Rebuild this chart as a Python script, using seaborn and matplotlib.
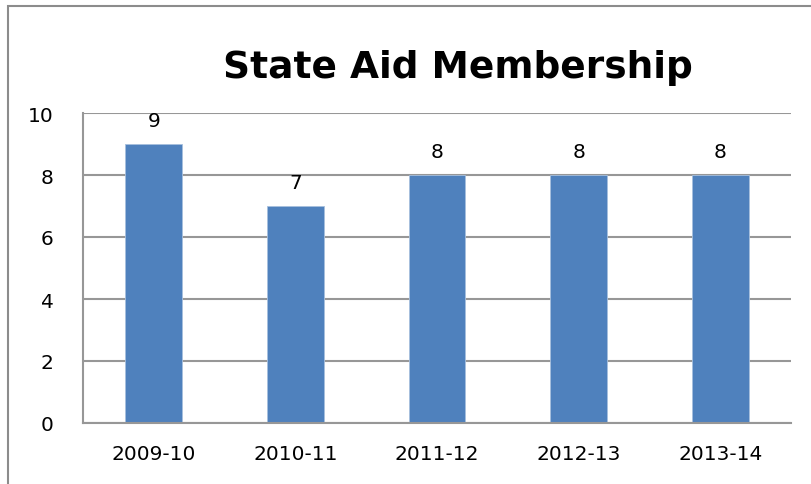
import matplotlib
matplotlib.use("Agg")
import matplotlib.pyplot as plt
import seaborn as sns
import pandas as pd
from matplotlib.patches import Rectangle

years = ["2009-10", "2010-11", "2011-12", "2012-13", "2013-14"]
members = [9, 7, 8, 8, 8]
title = "State Aid Membership"
yticks = [0, 2, 4, 6, 8, 10]

sns.set_theme(style="white")
plt.rcParams['font.family'] = ['DejaVu Sans']

W, H = 811, 485
fig = plt.figure(figsize=(W / 100, H / 100), dpi=100)
ax = fig.add_axes([83 / W, (H - 424) / H, (791 - 83) / W, (424 - 114) / H])

df = pd.DataFrame({"year": years, "members": members})
sns.barplot(data=df, x="year", y="members", ax=ax, color="#4F81BD",
            saturation=1, width=0.4, edgecolor="#A7C0DE", linewidth=0.6, zorder=3)

grid_c = "#979797"
ax.set_ylim(0, 10)
ax.set_yticks(yticks)
ax.set_yticklabels([str(v) for v in yticks])
ax.yaxis.grid(True, color=grid_c, linewidth=1.5, zorder=0)
ax.set_axisbelow(True)
for s in ["top", "right"]:
    ax.spines[s].set_visible(False)
for s in ["left", "bottom"]:
    ax.spines[s].set_color(grid_c)
    ax.spines[s].set_linewidth(1.5)
    ax.spines[s].set_zorder(4)
ax.tick_params(axis="both", length=0, labelsize=14.5, colors="black")
ax.tick_params(axis="y", pad=21)
ax.tick_params(axis="x", pad=15)
ax.set_xlabel("")
ax.set_ylabel("")

for i, v in enumerate(members):
    ax.annotate(str(v), xy=(i, v), xytext=(0, 13), textcoords="offset points",
                ha="center", va="baseline", fontsize=14.5, color="black", zorder=5)

fig.text(457.5 / W, (H - 78) / H, title, ha="center", va="baseline",
         fontsize=27, fontweight="bold", color="black")

fig.patches.append(Rectangle((8 / W, -0.2), 1.5, (H - 7) / H + 0.2,
                             transform=fig.transFigure, fill=False,
                             edgecolor="#8C8C8C", linewidth=1.5))

fig.savefig("out.png", dpi=100)
